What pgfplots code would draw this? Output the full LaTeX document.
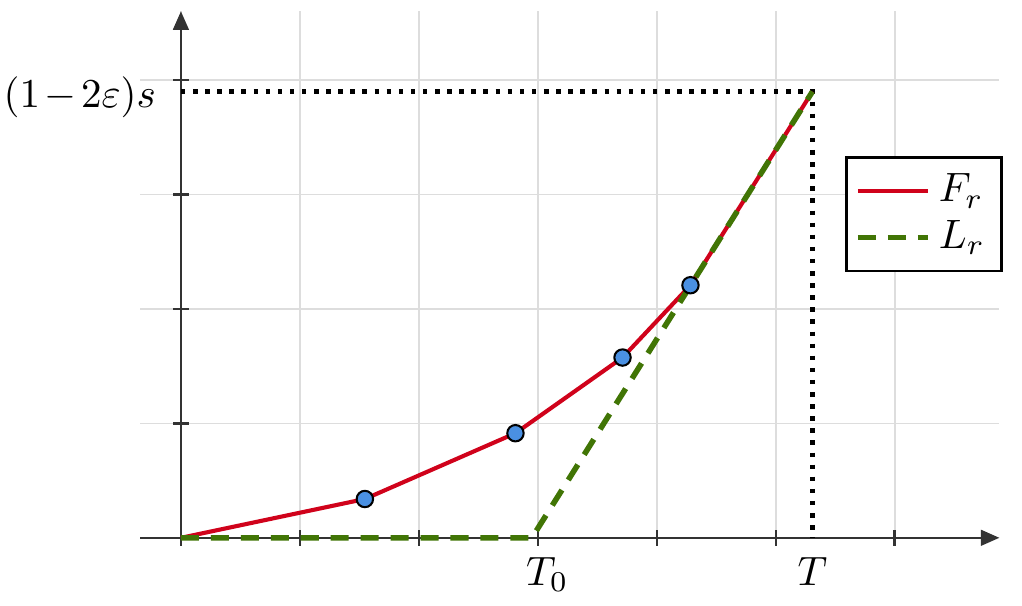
\documentclass[border=0pt]{standalone}
\usepackage{pgfplots}
\pgfplotsset{compat=1.18}
\usetikzlibrary{arrows.meta}
\definecolor{fred}{HTML}{D0021B}
\definecolor{lgreen}{HTML}{417505}
\definecolor{dotblue}{HTML}{4A90E2}
\definecolor{axisgray}{HTML}{333333}
\definecolor{gridgray}{HTML}{DDDDDD}

\begin{document}
\begin{tikzpicture}
\begin{axis}[
  x=29pt, y=27.9pt,
  xmin=-0.34, xmax=6.88,
  ymin=0, ymax=4.6,
  axis lines=middle,
  axis line style={draw=axisgray, line width=0.6pt, -{Triangle[length=4.5pt,width=3.8pt]}},
  xtick={0,...,6}, ytick={1,...,4},
  xticklabels={}, yticklabels={},
  hide obscured x ticks=false,
  tick style={draw=axisgray, line width=0.6pt},
  major tick length=3.8pt,
  tick align=center,
  grid=major,
  major grid style={draw=gridgray, line width=0.4pt},
  clip=false,
  legend style={at={(1.004,0.725)}, anchor=north east, draw=black, line width=0.7pt,
    font=\normalsize, inner sep=2pt, row sep=-1pt},
  legend cell align=left,
]
% dotted guides
\addplot[forget plot, black, line width=1.1pt, dash pattern=on 1.1pt off 1.85pt]
  coordinates {(0,3.898) (5.308,3.898) (5.308,0)};
% F_r
\addplot[fred, line width=1pt] coordinates {
  (0,0) (1.546,0.339) (2.812,0.914) (3.712,1.575) (4.283,2.207) (5.308,3.898)};
\addlegendentry{$F_r$}
% marks on F_r
\addplot[forget plot, only marks, mark=*, mark size=2pt,
  mark options={fill=dotblue, draw=black, line width=0.5pt}] coordinates {
  (1.546,0.339) (2.812,0.914) (3.712,1.575) (4.283,2.207)};
% L_r
\addplot[lgreen, line width=1.35pt, dash pattern=on 4.4pt off 2.9pt] coordinates {
  (0,0) (2.95,0) (5.308,3.898)};
\addlegendentry{$L_r$}
% labels
\node[anchor=east, inner sep=0pt, xshift=-5.9pt] at (axis cs:0,3.85)
  {$\medmuskip=2mu(1-2\varepsilon)s$};
\node[anchor=north, yshift=-1.2pt] at (axis cs:3.08,0) {$T_0$};
\node[anchor=north, yshift=-1.2pt] at (axis cs:5.308,0) {$T$};
% page frame
\path (axis cs:-1.521,-0.541) rectangle (axis cs:7.07,4.699);
\end{axis}
\end{tikzpicture}
\end{document}
